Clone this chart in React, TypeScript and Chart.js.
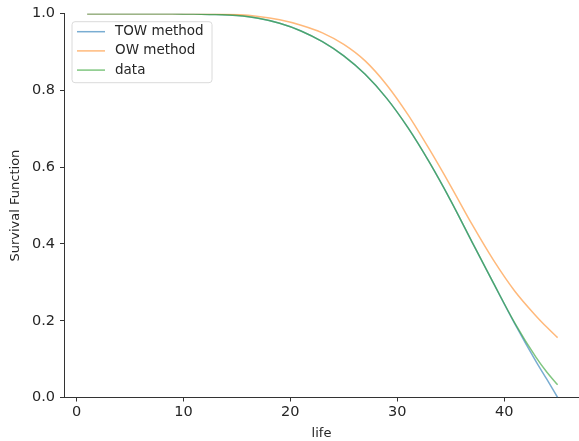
import React, { useEffect, useRef } from "react";
import { Chart, registerables } from "chart.js";

Chart.register(...registerables);

const lifeX = [1, 3, 5, 7, 9, 11, 13, 15, 17, 19, 21, 23, 25, 27, 29, 31, 33, 35, 37, 39, 41, 43, 44, 45];
const towValues = [1, 1, 1, 1, 1, 0.999, 0.998, 0.995, 0.988, 0.975, 0.955, 0.927, 0.89, 0.842, 0.78, 0.703, 0.613, 0.513, 0.405, 0.298, 0.192, 0.093, 0.047, 0.0];
const owValues = [1, 1, 1, 1, 1, 1, 1, 0.998, 0.993, 0.984, 0.97, 0.95, 0.92, 0.877, 0.815, 0.737, 0.647, 0.551, 0.451, 0.358, 0.277, 0.212, 0.183, 0.156];
const dataValues = [1, 1, 1, 1, 1, 0.999, 0.998, 0.995, 0.988, 0.975, 0.955, 0.927, 0.89, 0.842, 0.78, 0.703, 0.613, 0.513, 0.405, 0.298, 0.194, 0.104, 0.066, 0.033];
const seriesLabels = ["TOW method", "OW method", "data"];
const xTicks = [0, 10, 20, 30, 40];
const yTicks = [0, 0.2, 0.4, 0.6, 0.8, 1.0];

const FONT = "'DejaVu Sans', sans-serif";
const TEXT = "#262626";
const AXIS = "#333333";

const legendPlugin = {
  id: "insideLegend",
  afterDraw(chart: any) {
    const { ctx, chartArea } = chart;
    const x0 = chartArea.left + 8;
    const y0 = chartArea.top + 8;
    const w = 140;
    const h = 61;
    ctx.save();
    ctx.beginPath();
    const r = 3;
    ctx.moveTo(x0 + r, y0);
    ctx.lineTo(x0 + w - r, y0);
    ctx.quadraticCurveTo(x0 + w, y0, x0 + w, y0 + r);
    ctx.lineTo(x0 + w, y0 + h - r);
    ctx.quadraticCurveTo(x0 + w, y0 + h, x0 + w - r, y0 + h);
    ctx.lineTo(x0 + r, y0 + h);
    ctx.quadraticCurveTo(x0, y0 + h, x0, y0 + h - r);
    ctx.lineTo(x0, y0 + r);
    ctx.quadraticCurveTo(x0, y0, x0 + r, y0);
    ctx.closePath();
    ctx.fillStyle = "rgba(255,255,255,0.85)";
    ctx.fill();
    ctx.strokeStyle = "#dadada";
    ctx.lineWidth = 1;
    ctx.stroke();
    ctx.font = `13.5px ${FONT}`;
    ctx.textBaseline = "middle";
    ctx.fillStyle = TEXT;
    seriesLabels.forEach((label, i) => {
      const ds = chart.data.datasets[i];
      const yy = y0 + 10 + i * 19.2;
      ctx.beginPath();
      ctx.strokeStyle = ds.borderColor;
      ctx.lineWidth = 1.5;
      ctx.moveTo(x0 + 5, yy);
      ctx.lineTo(x0 + 33, yy);
      ctx.stroke();
      ctx.fillStyle = TEXT;
      ctx.fillText(label, x0 + 43, yy);
    });
    ctx.restore();
  },
};

export default function App() {
  const ref = useRef<HTMLCanvasElement | null>(null);

  useEffect(() => {
    if (!ref.current) return;
    const mk = (vals: number[]) => lifeX.map((x, i) => ({ x, y: vals[i] }));
    const chart = new Chart(ref.current, {
      type: "line",
      data: {
        datasets: [
          {
            label: seriesLabels[0],
            data: mk(towValues),
            borderColor: "rgba(31,119,180,0.6)",
            order: 2,
          },
          {
            label: seriesLabels[1],
            data: mk(owValues),
            borderColor: "rgba(255,127,14,0.55)",
            order: 1,
          },
          {
            label: seriesLabels[2],
            data: mk(dataValues),
            borderColor: "rgba(44,160,44,0.6)",
            order: 0,
          },
        ],
      },
      options: {
        animation: false,
        responsive: false,
        maintainAspectRatio: false,
        layout: { padding: { left: 0, right: 0, top: 13.5, bottom: 0 } },
        plugins: { legend: { display: false }, tooltip: { enabled: false } },
        elements: {
          point: { radius: 0 },
          line: { borderWidth: 1.5, cubicInterpolationMode: "monotone", fill: false },
        },
        scales: {
          x: {
            type: "linear",
            min: -1.17,
            max: 47.0,
            afterFit: (s: any) => {
              s.height = 43.5;
            },
            afterBuildTicks: (s: any) => {
              s.ticks = xTicks.map((v) => ({ value: v }));
            },
            grid: { drawOnChartArea: false, drawTicks: true, tickLength: 4, color: AXIS },
            border: { display: true, color: AXIS, width: 1 },
            ticks: {
              font: { family: FONT, size: 14.5 },
              color: TEXT,
              padding: 2,
              maxRotation: 0,
              callback: (v: any) => String(v),
            },
            title: {
              display: true,
              text: "life",
              font: { family: FONT, size: 13 },
              color: TEXT,
              padding: { top: 2, bottom: 0 },
            },
          },
          y: {
            type: "linear",
            min: 0,
            max: 1,
            afterFit: (s: any) => {
              s.width = 64;
            },
            afterBuildTicks: (s: any) => {
              s.ticks = yTicks.map((v) => ({ value: v }));
            },
            grid: { drawOnChartArea: false, drawTicks: true, tickLength: 4, color: AXIS },
            border: { display: true, color: AXIS, width: 1 },
            ticks: {
              font: { family: FONT, size: 14.5 },
              color: TEXT,
              padding: 5,
              callback: (v: any) => Number(v).toFixed(1),
            },
            title: {
              display: true,
              text: "Survival Function",
              font: { family: FONT, size: 13 },
              color: TEXT,
              padding: { top: 8, bottom: 0 },
            },
          },
        },
      },
      plugins: [legendPlugin],
    } as any);
    return () => chart.destroy();
  }, []);

  return (
    <div style={{ position: "fixed", left: 0, top: 0, width: 579, height: 441, background: "#fff" }}>
      <canvas ref={ref} width={579} height={441} style={{ width: 579, height: 441, display: "block" }} />
    </div>
  );
}
